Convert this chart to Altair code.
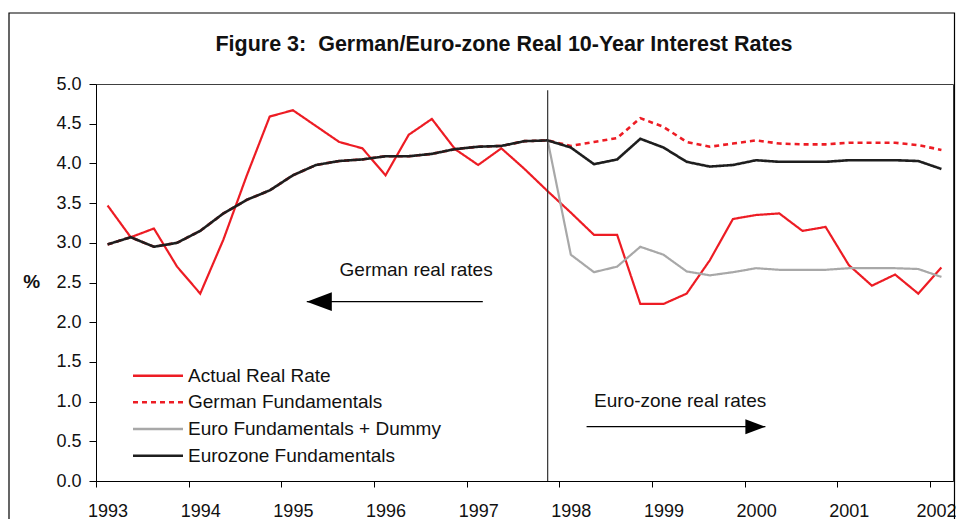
import altair as alt
import pandas as pd

# ---------------- data ----------------
years = [1993, 1994, 1995, 1996, 1997, 1998, 1999, 2000, 2001, 2002]
y_ticks = [0.0, 0.5, 1.0, 1.5, 2.0, 2.5, 3.0, 3.5, 4.0, 4.5, 5.0]

# quarterly observations, 1993Q1 .. 2002Q1
actual_real_rate = [3.47, 3.07, 3.18, 2.70, 2.36, 3.04, 3.84, 4.59, 4.67, 4.47,
                    4.27, 4.19, 3.85, 4.36, 4.56, 4.18, 3.98, 4.19, 3.93, 3.65,
                    3.38, 3.10, 3.10, 2.23, 2.23, 2.36, 2.78, 3.30, 3.35, 3.37,
                    3.15, 3.20, 2.72, 2.46, 2.60, 2.36, 2.69]
german_fundamentals = [2.98, 3.07, 2.95, 3.00, 3.15, 3.37, 3.54, 3.66, 3.85, 3.98,
                       4.03, 4.05, 4.09, 4.09, 4.12, 4.18, 4.21, 4.22, 4.28, 4.29,
                       4.22, 4.27, 4.32, 4.57, 4.46, 4.27, 4.21, 4.25, 4.29, 4.25,
                       4.24, 4.24, 4.26, 4.26, 4.26, 4.23, 4.17]
euro_fundamentals_dummy = [None] * 19 + [4.29, 2.85, 2.63, 2.70, 2.95, 2.85, 2.64, 2.59,
                                         2.63, 2.68, 2.66, 2.66, 2.66, 2.68, 2.68, 2.68,
                                         2.67, 2.57]
eurozone_fundamentals = [2.98, 3.07, 2.95, 3.00, 3.15, 3.37, 3.54, 3.66, 3.85, 3.98,
                         4.03, 4.05, 4.09, 4.09, 4.12, 4.18, 4.21, 4.22, 4.28, 4.29,
                         4.20, 3.99, 4.05, 4.31, 4.20, 4.02, 3.96, 3.98, 4.04, 4.02,
                         4.02, 4.02, 4.04, 4.04, 4.04, 4.03, 3.93]

series_names = ["Actual Real Rate", "German Fundamentals",
                "Euro Fundamentals + Dummy", "Eurozone Fundamentals"]
series_values = [actual_real_rate, german_fundamentals,
                 euro_fundamentals_dummy, eurozone_fundamentals]

# annotations (data coordinates)
divider_x = [1997.75]
divider_top = [4.92]
annot_text = ["German real rates", "Euro-zone real rates"]
annot_x = [1996.33, 1999.18]
annot_y = [2.66, 1.01]
arrow_start = [1997.05, 1998.17]
arrow_tip = [1995.15, 2000.10]
arrow_y = [2.258, 0.684]
arrow_dir = ["left", "right"]

TITLE = "Figure 3:\u00a0 German/Euro-zone Real 10-Year Interest Rates"

# ---------------- styles ----------------
FONT = "Liberation Sans"
RED = "#ED1C24"
GRAY = "#A8A8A8"
BLACK = "#1E1E1E"
colors = [RED, RED, GRAY, BLACK]
dashes = [[1, 0], [5, 4], [1, 0], [1, 0]]
widths = [2.2, 2.6, 2.2, 2.6]

W, H = 857, 397

rows = []
for name, vals in zip(series_names, series_values):
    for i, v in enumerate(vals):
        rows.append({"series": name, "t": 1993 + i / 4.0, "v": v})
df = pd.DataFrame(rows)

xscale = alt.Scale(domain=[1992.875, 2002.125], nice=False, zero=False)
yscale = alt.Scale(domain=[0, 5], nice=False)

half_cat = W / 37.0 / 2.0

xaxis = alt.Axis(values=years, format="d", title=None, grid=False,
                 tickOffset=-half_cat,
                 labelOffset={"condition": {"test": "datum.value >= 2002", "value": half_cat - 5.5},
                              "value": half_cat},
                 tickSize=6, labelPadding=15, labelFontSize=18, labelFlush=False,
                 labelFont=FONT, labelColor="#111", domainColor="#000",
                 tickColor="#000")
yaxis = alt.Axis(values=y_ticks, format=".1f", title="%", grid=False,
                 tickSize=7, labelPadding=8, labelFontSize=18, labelFlush=False,
                 labelFont=FONT, labelColor="#111", domainColor="#000",
                 tickColor="#000", titleAngle=0, titleX=-64.7, titleY=197,
                 titleAlign="center", titleBaseline="middle",
                 titleFont=FONT, titleFontSize=19, titleFontWeight="bold",
                 titleColor="#111")

one = pd.DataFrame({"k": [0]})

frame = alt.Chart(one).mark_rect(fillOpacity=0, stroke="#000", strokeWidth=1.2).encode(
    x=alt.value(-87), x2=alt.value(858.5), y=alt.value(-71), y2=alt.value(470))

title = alt.Chart(one).mark_text(
    text=TITLE, font=FONT, fontSize=21.5, fontWeight="bold", color="#111",
    align="center", baseline="middle").encode(x=alt.value(408), y=alt.value(-39))

base = alt.Chart(df)
lines = []
for idx, name in enumerate(series_names):
    lines.append(
        base.transform_filter(alt.datum.series == name).mark_line(
            color=colors[idx], strokeDash=dashes[idx], strokeWidth=widths[idx]
        ).encode(
            x=alt.X("t:Q", scale=xscale, axis=xaxis),
            y=alt.Y("v:Q", scale=yscale, axis=yaxis),
        )
    )

div_df = pd.DataFrame({"x": divider_x, "top": divider_top, "bot": [0.0]})
divider = alt.Chart(div_df).mark_rule(color="#333", strokeWidth=1.2).encode(
    x=alt.X("x:Q", scale=xscale, axis=xaxis),
    y=alt.Y("bot:Q", scale=yscale, axis=yaxis), y2="top:Q")

ann_df = pd.DataFrame({"text": annot_text, "x": annot_x, "y": annot_y,
                       "x0": arrow_start, "x1": arrow_tip, "ay": arrow_y,
                       "dir": arrow_dir})
ann_text = alt.Chart(ann_df).mark_text(font=FONT, fontSize=19, color="#111",
                                       align="center", baseline="middle").encode(
    x=alt.X("x:Q", scale=xscale, axis=xaxis),
    y=alt.Y("y:Q", scale=yscale, axis=yaxis), text="text:N")
ann_line = alt.Chart(ann_df).mark_rule(color="#000", strokeWidth=1.3).encode(
    x=alt.X("x0:Q", scale=xscale, axis=xaxis), x2="x1:Q",
    y=alt.Y("ay:Q", scale=yscale, axis=yaxis))
head_left = alt.Chart(ann_df).transform_filter(alt.datum.dir == "left").mark_point(
    shape="M0,0L1.6,-0.6L1.6,0.6Z", size=977, filled=True, fill="#000",
    strokeWidth=0, opacity=1).encode(
    x=alt.X("x1:Q", scale=xscale, axis=xaxis), y=alt.Y("ay:Q", scale=yscale, axis=yaxis))
head_right = alt.Chart(ann_df).transform_filter(alt.datum.dir == "right").mark_point(
    shape="M0,0L-1.6,-0.6L-1.6,0.6Z", size=625, filled=True, fill="#000",
    strokeWidth=0, opacity=1).encode(
    x=alt.X("x1:Q", scale=xscale, axis=xaxis), y=alt.Y("ay:Q", scale=yscale, axis=yaxis))

# custom legend inside the plot area
leg_df = pd.DataFrame({"name": series_names, "k": list(range(len(series_names)))})
leg_color = alt.Scale(domain=series_names, range=colors)
leg_dash = alt.Scale(domain=series_names, range=dashes)
leg_base = alt.Chart(leg_df).transform_calculate(ly="291.7 + 26.67 * datum.k")
leg_lines = leg_base.mark_rule(strokeWidth=2.5).encode(
    x=alt.value(37), x2=alt.value(87),
    y=alt.Y("ly:Q", scale=None),
    color=alt.Color("name:N", scale=leg_color, legend=None),
    strokeDash=alt.StrokeDash("name:N", scale=leg_dash, legend=None))
leg_text = leg_base.mark_text(font=FONT, fontSize=19, color="#111",
                              align="left", baseline="middle").encode(
    x=alt.value(92), y=alt.Y("ly:Q", scale=None), text="name:N")

chart = alt.layer(
    frame, title, *lines, divider, ann_line, head_left, head_right, ann_text,
    leg_lines, leg_text
).properties(
    width=W, height=H,
    padding={"left": 88, "top": 76, "right": 3, "bottom": 38},
    autosize=alt.AutoSizeParams(type="none"),
).configure_view(stroke="#404040", strokeWidth=1)

chart.save("out.html", embed_options={"renderer": "svg", "actions": False})
